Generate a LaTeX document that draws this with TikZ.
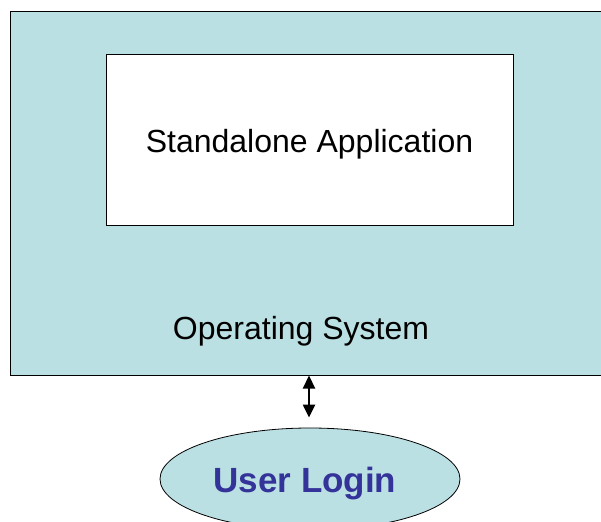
\documentclass[tikz,border=0pt]{standalone}
\usepackage{fontspec}
\setmainfont{Liberation Sans}
\usetikzlibrary{shapes.geometric,arrows.meta}
\definecolor{oscyan}{HTML}{BBE0E3}
\definecolor{loginblue}{HTML}{333399}
\begin{document}
\begin{tikzpicture}[x=1pt,y=1pt,
  osbox/.style={draw=black, line width=1pt, fill=oscyan, rectangle, inner sep=0pt},
  appbox/.style={draw=black, line width=1pt, fill=white, rectangle, inner sep=0pt},
  loginell/.style={draw=black, line width=0.8pt, fill=oscyan, ellipse, inner sep=0pt},
  biarrow/.style={line width=2.2pt, {Triangle[length=13pt,width=12pt]}-{Triangle[length=13pt,width=12pt]}}
]
\useasboundingbox (0,0) rectangle (601,-521);
\clip (0,0) rectangle (601,-521);
\node[osbox, minimum width=610pt, minimum height=363pt] (os) at (315,-193.5) {};
\node[appbox, minimum width=407pt, minimum height=170pt] (app) at (309.5,-140) {};
\node[font=\fontsize{32}{38}\selectfont] (apptext) at (309.5,-144.5) {Standalone Application};
\node[font=\fontsize{32}{38}\selectfont] (ostext) at (301,-331) {Operating System};
\node[loginell, minimum width=300pt, minimum height=102pt] (login) at (310,-479) {};
\node[font=\bfseries\fontsize{35}{42}\selectfont, text=loginblue] (logintext) at (305,-484) {User Login};
\coordinate (arrtop) at (309,-375.5);
\draw[biarrow] (arrtop) -- ([xshift=-1pt,yshift=10pt]login.north);
\end{tikzpicture}
\end{document}
